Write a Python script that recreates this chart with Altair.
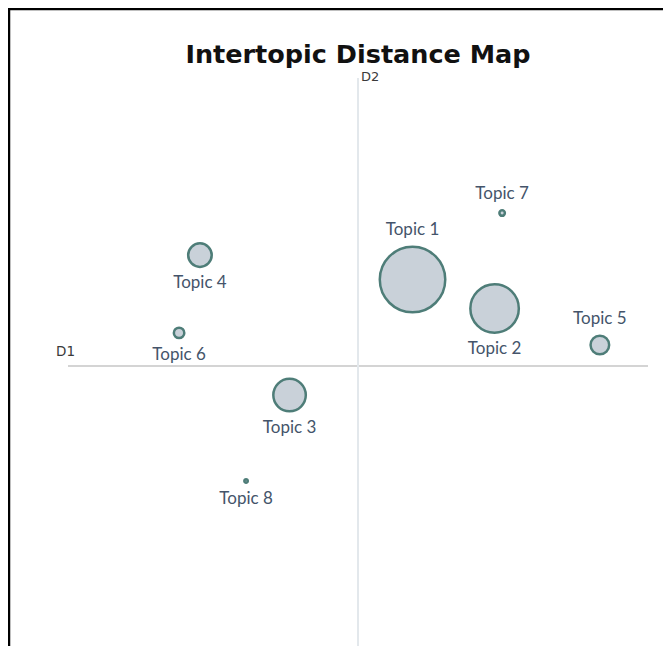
import altair as alt
import pandas as pd

# Data
topics = ["Topic 1", "Topic 2", "Topic 3", "Topic 4", "Topic 5", "Topic 6", "Topic 7", "Topic 8"]
d1 = [0.188, 0.471, -0.236, -0.545, 0.834, -0.617, 0.497, -0.386]
d2 = [0.300, 0.200, -0.101, 0.385, 0.073, 0.115, 0.531, -0.399]
share = [47.1, 25.8, 11.6, 6.1, 3.8, 1.2, 0.33, 0.13]
label_side = ["above", "below", "below", "below", "above", "below", "above", "below"]

df = pd.DataFrame({"topic": topics, "D1": d1, "D2": d2, "share": share, "side": label_side})

W, H = 655, 638
X_RANGE = [60, 640]
Y_RANGE = [646, 70]
SIZE_FACTOR = 91.0  # px^2 per percent
Y_PX_PER_UNIT = (Y_RANGE[0] - Y_RANGE[1]) / 2.0

xs = alt.Scale(domain=[-1, 1], range=X_RANGE)
ys = alt.Scale(domain=[-1, 1], range=Y_RANGE)
ss = alt.Scale(domain=[0, 100], range=[0, 100 * SIZE_FACTOR])

base = alt.Chart(df)

axes_df = pd.DataFrame({"lo": [-1], "hi": [1], "zero": [0]})
hline = alt.Chart(axes_df).mark_rule(color="#d4d4d4", strokeWidth=2).encode(
    x=alt.X("lo:Q", scale=xs, axis=None), x2="hi:Q",
    y=alt.Y("zero:Q", scale=ys, axis=None))
vline = alt.Chart(axes_df).mark_rule(color="#e3e8ec", strokeWidth=2).encode(
    y=alt.Y("lo:Q", scale=ys, axis=None), y2="hi:Q",
    x=alt.X("zero:Q", scale=xs, axis=None))

bubbles = base.mark_circle(opacity=1, fill="#c9d1d9", stroke="#4e7d78", strokeWidth=2.5).encode(
    x=alt.X("D1:Q", scale=xs, axis=None),
    y=alt.Y("D2:Q", scale=ys, axis=None),
    size=alt.Size("share:Q", scale=ss, legend=None),
    tooltip=["topic", "share"],
)

labels = base.transform_calculate(
    r=f"sqrt(datum.share * {SIZE_FACTOR}) / 2 + 1.5",
).transform_calculate(
    ly=f"datum.D2 + (datum.side == 'above' ? 1 : -1) * (datum.r + 15) / {Y_PX_PER_UNIT}"
).mark_text(font="Lato", fontSize=17, color="#44546a", baseline="middle", align="center").encode(
    x=alt.X("D1:Q", scale=xs, axis=None),
    y=alt.Y("ly:Q", scale=ys, axis=None),
    text="topic:N",
)

title = alt.Chart(pd.DataFrame({"t": ["Intertopic Distance Map"]})).mark_text(
    font="DejaVu Sans", fontWeight="bold", fontSize=25.5, color="#111111", align="center", baseline="alphabetic"
).encode(x=alt.value(350), y=alt.value(55), text="t:N")

d1_lab = alt.Chart(pd.DataFrame({"t": ["D1"]})).mark_text(
    font="DejaVu Sans", fontSize=13.5, color="#3a3a3a", align="left", baseline="middle"
).encode(x=alt.value(48), y=alt.value(344), text="t:N")

d2_lab = alt.Chart(pd.DataFrame({"t": ["D2"]})).mark_text(
    font="DejaVu Sans", fontSize=13, color="#3a3a3a", align="left", baseline="top"
).encode(x=alt.value(353), y=alt.value(63), text="t:N")

border_left = alt.Chart(pd.DataFrame({"a": [0]})).mark_rule(color="#000000", strokeWidth=2.5).encode(
    x=alt.value(1), y=alt.value(0), y2=alt.value(H))
border_top = alt.Chart(pd.DataFrame({"a": [0]})).mark_rule(color="#000000", strokeWidth=2.5).encode(
    y=alt.value(1), x=alt.value(0), x2=alt.value(W))

chart = alt.layer(
    hline, vline, bubbles, labels, title, d1_lab, d2_lab, border_left, border_top
).properties(
    width=W, height=H, padding=0,
    autosize=alt.AutoSizeParams(type="none"),
    background="white",
).configure_view(stroke=None)

chart.save("out.html", embed_options={"renderer": "svg", "actions": False})
